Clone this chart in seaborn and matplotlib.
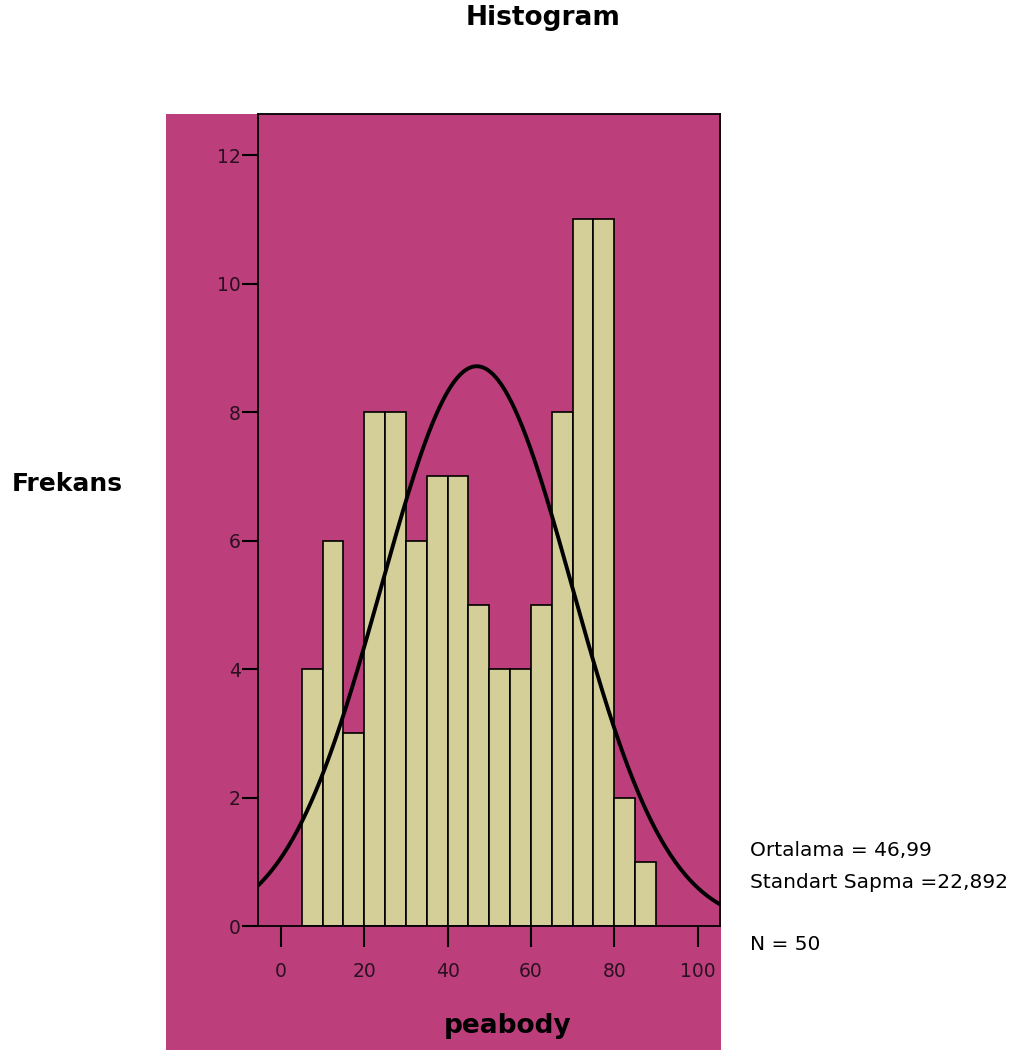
import matplotlib
matplotlib.use("Agg")
import matplotlib.pyplot as plt
import numpy as np
import pandas as pd
import seaborn as sns
from matplotlib.patches import Rectangle

# data
bin_edges = [5, 10, 15, 20, 25, 30, 35, 40, 45, 50, 55, 60, 65, 70, 75, 80, 85, 90]
counts = [4, 6, 3, 8, 8, 6, 7, 7, 5, 4, 4, 5, 8, 11, 11, 2, 1]
mean_val = 46.99
sd_val = 22.892
n_label = 50
x_ticks = [0, 20, 40, 60, 80, 100]
y_ticks = [0, 2, 4, 6, 8, 10, 12]

bg = "#BC3F7C"
bar_col = "#D4CF98"

sns.set_style("white")
plt.rcParams["font.family"] = ["DejaVu Sans"]
plt.rcParams["text.color"] = "black"

fig = plt.figure(figsize=(10.19, 10.5), dpi=100)
fig.patches.append(Rectangle((166 / 1019, 0), (721 - 166) / 1019, 936 / 1050,
                             transform=fig.transFigure, facecolor=bg,
                             edgecolor="none", zorder=-5))

ax = fig.add_axes([258 / 1019, 124 / 1050, (720.5 - 258) / 1019, (926 - 114) / 1050])
ax.set_zorder(2)
ax.set_facecolor(bg)

edges = np.array(bin_edges)
df = pd.DataFrame({"peabody": (edges[:-1] + edges[1:]) / 2, "n": counts})
sns.histplot(data=df, x="peabody", weights="n", binwidth=5, binrange=(5, 90),
             ax=ax, color=bar_col, alpha=1, edgecolor="black", linewidth=1.2)

# normal curve from the stats
width = edges[1] - edges[0]
xs = np.linspace(-5.5, 105.5, 400)
ys = sum(counts) * width / (sd_val * np.sqrt(2 * np.pi)) * np.exp(-0.5 * ((xs - mean_val) / sd_val) ** 2)
sns.lineplot(x=xs, y=ys, ax=ax, color="black", linewidth=2.8)

ax.set_xlim(-5.5, 105.5)
ax.set_ylim(0, 12.64)
ax.set_xticks(x_ticks)
ax.set_yticks(y_ticks)
ax.tick_params(axis="x", direction="out", length=15, width=1.5, pad=11,
               labelsize=13.5, colors="black", bottom=True)
ax.tick_params(axis="y", direction="out", length=11.5, width=1.5, pad=1,
               labelsize=13.5, colors="black", left=True)
for tl in ax.get_xticklabels() + ax.get_yticklabels():
    tl.set_color("#2a1020")
for s in ax.spines.values():
    s.set_visible(True)
    s.set_color("black")
    s.set_linewidth(1.3)
ax.set_xlabel("")
ax.set_ylabel("")

fig.text(543 / 1019, 1 - 18 / 1050, "Histogram", ha="center", va="center",
         fontsize=19, fontweight="bold")
fig.text(12 / 1019, 1 - 484 / 1050, "Frekans", ha="left", va="center",
         fontsize=18, fontweight="bold")
fig.text(508 / 1019, 1 - 1026 / 1050, "peabody", ha="center", va="center",
         fontsize=19, fontweight="bold")
fig.text(750 / 1019, 1 - 850 / 1050, f"Ortalama = {mean_val:.2f}".replace(".", ","),
         ha="left", va="center", fontsize=14.5)
fig.text(750 / 1019, 1 - 882 / 1050, f"Standart Sapma ={sd_val:.3f}".replace(".", ","),
         ha="left", va="center", fontsize=14.5)
fig.text(750 / 1019, 1 - 944 / 1050, f"N = {n_label}",
         ha="left", va="center", fontsize=14.5)

fig.savefig("out.png", dpi=100)
